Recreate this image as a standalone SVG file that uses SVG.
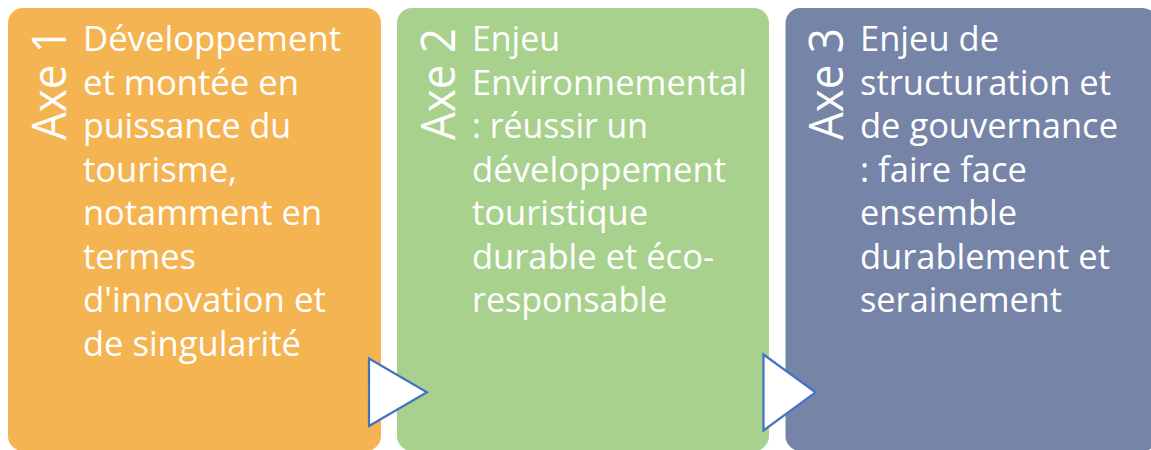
<svg xmlns="http://www.w3.org/2000/svg" width="1151" height="450" viewBox="0 0 1151 450">
<style>
.box{stroke:none}
.t{font-family:"Open Sans","Noto Sans","Liberation Sans",sans-serif;font-size:34px;fill:#ffffff}
.ax{font-family:"Open Sans","Noto Sans","Liberation Sans",sans-serif;font-size:47px;fill:#ffffff;font-weight:400}
.arr{fill:#ffffff;stroke:#4472C4;stroke-width:2.2;stroke-linejoin:miter}
</style>
<rect width="1151" height="450" fill="#ffffff"/>
<g id="axe1">
<rect class="box" x="8" y="8" width="373" height="443" rx="15" ry="15" fill="#F5B452"/>
<text class="ax" transform="translate(66,140) rotate(-90)" textLength="112" lengthAdjust="spacingAndGlyphs">Axe 1</text>
<text class="t" x="83" y="51" textLength="258" lengthAdjust="spacingAndGlyphs">Développement</text>
<text class="t" x="83" y="94.5" textLength="216" lengthAdjust="spacingAndGlyphs">et montée en</text>
<text class="t" x="83" y="138" textLength="208" lengthAdjust="spacingAndGlyphs">puissance du</text>
<text class="t" x="83" y="181.5" textLength="154" lengthAdjust="spacingAndGlyphs">tourisme,</text>
<text class="t" x="83" y="225" textLength="239" lengthAdjust="spacingAndGlyphs">notamment en</text>
<text class="t" x="83" y="268.5" textLength="113" lengthAdjust="spacingAndGlyphs">termes</text>
<text class="t" x="83" y="312" textLength="243" lengthAdjust="spacingAndGlyphs">d'innovation et</text>
<text class="t" x="83" y="355.5" textLength="218" lengthAdjust="spacingAndGlyphs">de singularité</text>
</g>
<g id="axe2">
<rect class="box" x="397" y="8" width="372" height="443" rx="15" ry="15" fill="#A9D18E"/>
<text class="ax" transform="translate(455,140) rotate(-90)" textLength="112" lengthAdjust="spacingAndGlyphs">Axe 2</text>
<text class="t" x="472" y="51" textLength="88" lengthAdjust="spacingAndGlyphs">Enjeu</text>
<text class="t" x="472" y="94.5" textLength="275" lengthAdjust="spacingAndGlyphs">Environnemental</text>
<text class="t" x="472" y="138" textLength="176" lengthAdjust="spacingAndGlyphs">: réussir un</text>
<text class="t" x="472" y="181.5" textLength="254" lengthAdjust="spacingAndGlyphs">développement</text>
<text class="t" x="472" y="225" textLength="176" lengthAdjust="spacingAndGlyphs">touristique</text>
<text class="t" x="472" y="268.5" textLength="242" lengthAdjust="spacingAndGlyphs">durable et éco-</text>
<text class="t" x="472" y="312" textLength="195" lengthAdjust="spacingAndGlyphs">responsable</text>
</g>
<g id="axe3">
<rect class="box" x="785.5" y="8" width="372" height="443" rx="15" ry="15" fill="#7584A7"/>
<text class="ax" transform="translate(843,140) rotate(-90)" textLength="112" lengthAdjust="spacingAndGlyphs">Axe 3</text>
<text class="t" x="860" y="51" textLength="139" lengthAdjust="spacingAndGlyphs">Enjeu de</text>
<text class="t" x="860" y="94.5" textLength="251" lengthAdjust="spacingAndGlyphs">structuration et</text>
<text class="t" x="860" y="138" textLength="258" lengthAdjust="spacingAndGlyphs">de gouvernance</text>
<text class="t" x="860" y="181.5" textLength="167" lengthAdjust="spacingAndGlyphs">: faire face</text>
<text class="t" x="860" y="225" textLength="157" lengthAdjust="spacingAndGlyphs">ensemble</text>
<text class="t" x="860" y="268.5" textLength="250" lengthAdjust="spacingAndGlyphs">durablement et</text>
<text class="t" x="860" y="312" textLength="202" lengthAdjust="spacingAndGlyphs">serainement</text>
</g>
<g id="connectors">
<polygon class="arr" points="369,358.5 427,392.3 369,426"/>
<polygon class="arr" points="763.5,354.5 815.5,392.3 763.5,430.5"/>
</g>
</svg>
